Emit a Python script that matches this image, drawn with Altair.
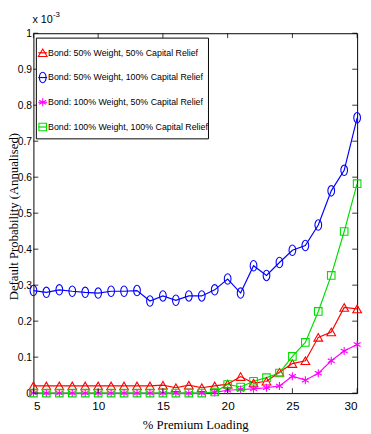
import altair as alt
import pandas as pd

loading = list(range(5, 31))

s_names = [
    "Bond: 50% Weight, 50% Capital Relief",
    "Bond: 50% Weight, 100% Capital Relief",
    "Bond: 100% Weight, 50% Capital Relief",
    "Bond: 100% Weight, 100% Capital Relief",
]

red = [0.020, 0.020, 0.020, 0.020, 0.020, 0.020, 0.020, 0.020, 0.020, 0.020, 0.022, 0.015, 0.022, 0.015,
       0.020, 0.025, 0.046, 0.028, 0.033, 0.058, 0.082, 0.090, 0.155, 0.170, 0.238, 0.234]
blue = [0.285, 0.280, 0.287, 0.283, 0.280, 0.278, 0.283, 0.283, 0.285, 0.256, 0.270, 0.258, 0.270, 0.270,
        0.287, 0.317, 0.278, 0.354, 0.327, 0.363, 0.397, 0.410, 0.467, 0.562, 0.619, 0.765]
magenta = [0.0, 0.0, 0.0, 0.0, 0.0, 0.0, 0.0, 0.0, 0.0, 0.0, 0.0, 0.0, 0.0, 0.0,
           0.002, 0.008, 0.010, 0.012, 0.015, 0.020, 0.047, 0.036, 0.055, 0.090, 0.117, 0.135]
green = [0.0, 0.0, 0.0, 0.0, 0.0, 0.0, 0.0, 0.0, 0.0, 0.0, 0.0, 0.0, 0.0, 0.0,
         0.003, 0.024, 0.017, 0.033, 0.043, 0.056, 0.102, 0.141, 0.227, 0.327, 0.449, 0.582]

x_ticks = [5, 10, 15, 20, 25, 30]
y_ticks = [0, 0.1, 0.2, 0.3, 0.4, 0.5, 0.6, 0.7, 0.8, 0.9, 1.0]

colors = ["#ff0000", "#0000ff", "#ff00ff", "#00dd00"]
asterisk = "M0,-1L0,1M-0.87,-0.5L0.87,0.5M-0.87,0.5L0.87,-0.5"
circle_tall = "M0,-1.25A0.8,1.25 0 1,1 0,1.25A0.8,1.25 0 1,1 0,-1.25Z"
shapes = ["triangle-up", circle_tall, asterisk, "square"]
sizes = [80, 60, 60, 50]

PL = 26
W, H = 331, 368
LBL = "Liberation Sans, Arial, sans-serif"
SERIF = "Liberation Serif, DejaVu Serif, serif"

rows = []
for name, vals in zip(s_names, [red, blue, magenta, green]):
    for xv, yv in zip(loading, vals):
        rows.append({"loading": xv, "prob": yv, "series": name})
df = pd.DataFrame(rows)

xs = alt.Scale(domain=[5, 30], nice=False, zero=False)
ys = alt.Scale(domain=[0, 1], nice=False)
cs = alt.Scale(domain=s_names, range=colors)
ss = alt.Scale(domain=s_names, range=shapes)
zs = alt.Scale(domain=s_names, range=sizes)

xa = alt.Axis(values=x_ticks, ticks=False, grid=False, domain=False, labelOverlap=False,
              title="% Premium Loading", titleFont=SERIF,
              titleFontWeight="normal", titleFontSize=13, titlePadding=7,
              titleColor="black",
              labelFont=LBL, labelFontSize=12, labelPadding=8, labelColor="black")
ya = alt.Axis(values=y_ticks, format="~g", ticks=False, grid=False, domain=False,
              labelOverlap=False, labelBound=False, labelFlush=False,
              title="Default Probability (Annualised)", titleFont=SERIF,
              titleFontWeight="normal", titleFontSize=13, titleColor="black",
              titleAngle=270, titleBaseline="top", titleX=-PL, titleY=H / 2 + 3,
              labelFont=LBL, labelFontSize=10.5, labelPadding=2, labelColor="black")

lines = alt.Chart(df).mark_line(strokeWidth=1.2).encode(
    x=alt.X("loading:Q", scale=xs, axis=xa),
    y=alt.Y("prob:Q", scale=ys, axis=ya),
    color=alt.Color("series:N", scale=cs, legend=None),
    detail="series:N",
)
points = alt.Chart(df).mark_point(filled=False, strokeWidth=1.1, opacity=1).encode(
    x=alt.X("loading:Q", scale=xs, axis=xa),
    y=alt.Y("prob:Q", scale=ys, axis=ya),
    color=alt.Color("series:N", scale=cs, legend=None),
    shape=alt.Shape("series:N", scale=ss, legend=None),
    size=alt.Size("series:N", scale=zs, legend=None),
)

xt = pd.DataFrame({"t": x_ticks})
yt = pd.DataFrame({"t": y_ticks})
tick_b = alt.Chart(xt).mark_rule(color="black", strokeWidth=0.8).encode(
    x=alt.X("t:Q", scale=xs, axis=xa), y=alt.value(H), y2=alt.value(H - 5))
tick_t = alt.Chart(xt).mark_rule(color="black", strokeWidth=0.8).encode(
    x=alt.X("t:Q", scale=xs, axis=xa), y=alt.value(0), y2=alt.value(5))
tick_l = alt.Chart(yt).mark_rule(color="black", strokeWidth=0.8).encode(
    y=alt.Y("t:Q", scale=ys, axis=ya), x=alt.value(0), x2=alt.value(5))
tick_r = alt.Chart(yt).mark_rule(color="black", strokeWidth=0.8).encode(
    y=alt.Y("t:Q", scale=ys, axis=ya), x=alt.value(W), x2=alt.value(W - 5))

# legend
leg_df = pd.DataFrame({"series": s_names, "ly": [20 + 25.3 * i for i in range(len(s_names))]})
leg_box = alt.Chart(pd.DataFrame({"a": [0]})).mark_rect(
    fill="white", stroke="black", strokeWidth=1).encode(
    x=alt.value(3), x2=alt.value(179), y=alt.value(5), y2=alt.value(108))
leg_line = alt.Chart(leg_df).mark_rule(strokeWidth=1.2).encode(
    x=alt.value(5), x2=alt.value(14),
    y=alt.Y("ly:Q", scale=None),
    color=alt.Color("series:N", scale=cs, legend=None))
leg_pt = alt.Chart(leg_df).mark_point(filled=False, strokeWidth=1.1, opacity=1).encode(
    x=alt.value(9.5), y=alt.Y("ly:Q", scale=None),
    color=alt.Color("series:N", scale=cs, legend=None),
    shape=alt.Shape("series:N", scale=ss, legend=None),
    size=alt.Size("series:N", scale=zs, legend=None))
leg_txt = alt.Chart(leg_df).mark_text(
    align="left", baseline="middle", font=LBL, fontSize=9, color="black").encode(
    x=alt.value(15), y=alt.Y("ly:Q", scale=None), text="series:N")

exp_main = alt.Chart(pd.DataFrame({"a": [0]})).mark_text(
    align="left", baseline="alphabetic", font=LBL, fontSize=11, color="black", text="x 10").encode(
    x=alt.value(-1), y=alt.value(-10))
exp_sup = alt.Chart(pd.DataFrame({"a": [0]})).mark_text(
    align="left", baseline="alphabetic", font=LBL, fontSize=8, color="black", text="-3").encode(
    x=alt.value(20), y=alt.value(-17))

chart = alt.layer(
    lines, points, tick_b, tick_t, tick_l, tick_r,
    leg_box, leg_line, leg_pt, leg_txt, exp_main, exp_sup
).properties(
    width=W, height=H,
    autosize=alt.AutoSizeParams(type="none"),
    padding={"left": PL, "top": 21, "right": 6, "bottom": 37},
    background="white",
).configure_view(stroke="black", strokeWidth=1).configure_axis(labelOverlap=False)

chart.save("out.html", embed_options={"renderer": "svg", "actions": False})
